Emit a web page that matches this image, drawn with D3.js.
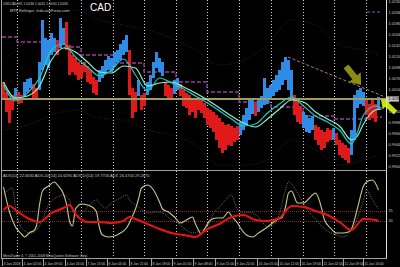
<!DOCTYPE html>
<html>
<head>
<meta charset="utf-8">
<script src="https://cdn.jsdelivr.net/npm/d3@7"></script>
<style>
html, body { margin: 0; padding: 0; background: #000; overflow: hidden; }
svg { display: block; }
text { font-family: "Liberation Sans", Arial, sans-serif; }
</style>
</head>
<body>
<script>
// ---- price bars (H1), one per bar index ----
const barHigh = [
  1.0070,1.0050,1.0038,1.0044,1.0058,1.0050,1.0044,1.0070,1.0076,1.0078,
  1.0066,1.0058,1.0110,1.0194,1.0158,1.0154,1.0168,1.0158,1.0154,1.0198,
  1.0178,1.0190,1.0144,1.0124,1.0118,1.0110,1.0104,1.0110,1.0102,1.0094,
  1.0080,1.0074,1.0094,1.0102,1.0114,1.0122,1.0118,1.0130,1.0134,1.0146,
  1.0154,1.0164,1.0134,1.0058,1.0050,1.0074,1.0044,1.0048,1.0070,1.0084,
  1.0110,1.0130,1.0118,1.0110,1.0070,1.0064,1.0058,1.0074,1.0078,1.0066,
  1.0054,1.0048,1.0044,1.0038,1.0034,1.0040,1.0038,1.0028,1.0018,1.0014,
  1.0010,1.0004,0.9998,0.9990,0.9984,0.9986,0.9982,0.9978,0.9982,0.9990,
  1.0004,1.0018,1.0034,1.0038,1.0030,1.0034,1.0042,1.0078,1.0058,1.0064,
  1.0074,1.0084,1.0094,1.0110,1.0120,1.0114,1.0094,1.0044,1.0034,1.0022,
  1.0010,1.0004,0.9998,1.0002,0.9984,0.9980,0.9974,0.9970,0.9978,0.9974,
  0.9978,0.9968,0.9954,0.9948,0.9944,0.9938,0.9974,1.0044,1.0054,1.0058,
  1.0050,1.0034,1.0026,1.0034,1.0026,1.0040
];
const barLow = [
  1.0034,1.0010,0.9988,1.0014,1.0038,1.0026,1.0028,1.0040,1.0050,1.0058,
  1.0038,1.0034,1.0054,1.0094,1.0104,1.0098,1.0124,1.0130,1.0124,1.0138,
  1.0144,1.0134,1.0084,1.0090,1.0084,1.0074,1.0078,1.0090,1.0070,1.0066,
  1.0048,1.0044,1.0070,1.0078,1.0086,1.0094,1.0090,1.0102,1.0110,1.0114,
  1.0124,1.0130,1.0044,0.9998,1.0010,1.0042,1.0014,1.0022,1.0044,1.0054,
  1.0078,1.0098,1.0090,1.0082,1.0042,1.0038,1.0034,1.0046,1.0054,1.0042,
  1.0022,1.0018,1.0004,1.0010,0.9998,1.0014,1.0008,0.9998,0.9984,0.9978,
  0.9970,0.9954,0.9938,0.9928,0.9934,0.9944,0.9942,0.9950,0.9954,0.9964,
  0.9974,0.9984,0.9994,1.0006,1.0002,1.0010,1.0018,1.0024,1.0026,1.0034,
  1.0042,1.0050,1.0054,1.0064,1.0074,1.0054,1.0034,1.0004,0.9990,0.9986,
  0.9978,0.9970,0.9968,0.9974,0.9954,0.9944,0.9934,0.9938,0.9950,0.9954,
  0.9954,0.9944,0.9924,0.9918,0.9914,0.9908,0.9924,0.9954,1.0018,1.0026,
  1.0022,1.0004,0.9994,0.9998,0.9990,1.0014
];
// b = up (blue), r = down (red)
const barDir = ("rrrrbrrbbb" + "rrbbbbbbrb" + "brrrrrrrrr" + "rrbbbbbbbb" +
  "bbrrrbrrbb" + "bbbbrrrbbr" + "rrrrrrrrrr" + "rrrrrrrrrb" + "bbbbrbbbbb" +
  "bbbbbbbrrr" + "bbbbrrrrrr" + "brrrrrbbbb" + "brrrrb").split("");

// ---- moving averages ----
const maIdx  = [0,4,8,12,16,20,24,28,32,36,40,44,48,52,56,60,64,68,72,76,80,84,88,92,96,100,104,108,112,116,118,120,124,126];
const maFast = [1.0064,1.0032,1.0048,1.0078,1.0134,1.0146,1.0120,1.0100,1.0082,1.0094,1.0116,1.0084,1.0052,1.0078,1.0068,1.0056,1.0042,
  1.0028,1.0012,0.9996,0.9982,0.9986,1.0008,1.0026,1.0040,1.0022,1.0002,0.9990,0.9974,0.9946,0.9970,1.0004,1.0022,1.0018];
const maSlow = [1.0070,1.0038,1.0042,1.0062,1.0114,1.0138,1.0130,1.0110,1.0090,1.0088,1.0102,1.0098,1.0062,1.0068,1.0070,1.0060,1.0048,
  1.0034,1.0018,1.0002,0.9988,0.9980,0.9996,1.0016,1.0034,1.0030,1.0010,0.9996,0.9982,0.9954,0.9962,0.9986,1.0014,1.0016];

// ---- faint bollinger bands ----
const bandIdx = [0,8,16,24,32,40,48,56,64,72,80,88,96,104,112,120,125];
const bandUpper = [1.0114,1.0154,1.0204,1.0214,1.0194,1.0184,1.0174,1.0158,1.0134,1.0104,1.0114,1.0144,1.0194,1.0184,1.0144,1.0134,1.0124];
const bandLower = [0.9974,0.9984,1.0004,1.0014,0.9998,0.9994,0.9974,0.9964,0.9944,0.9904,0.9904,0.9914,0.9954,0.9934,0.9904,0.9914,0.9924];

// ---- higher timeframe step line (MTF) ----
const gridBars = [5,15.67,26.33,37,47.33,58,68.33,79,89.67,100.33,110.67,121.33];
const mtfEdges = [0, ...gridBars, 126.7];
const mtfLevel = [1.0160,1.0150,1.0140,1.0124,1.0108,1.0090,1.0070,1.0050,1.0030,1.0020,1.0002,0.9996,1.0000];

// ---- objects ----
const hLevel = 1.0036;
const trendBars = [95.3, 127.7], trendPrices = [1.0120, 1.0040];
const blueDashBars = [121.7, 126.3], blueDashPrice = 1.0210;
const arrowBars = [119.7, 126.3], arrowPrices = [1.0064, 1.0036];
const arrowAngles = [51, 223], arrowColors = ["#8c8c12", "#c4e400"], arrowLens = [24, 20];

// ---- indicator pane (ADX) ----
const adxIdx = [0,2,4,8,12,16,20,22,24,28,32,36,40,42,44,48,52,56,60,64,68,72,76,80,84,88,92,96,100,104,108,112,116,120,124,125];
const adx = [25.5,27.5,25.5,21.5,19.5,24,26.5,28,23.5,19.5,19.5,19,20,22,21,18.5,16,14,13,12,16,18.5,22,23,20.5,20,21.5,27.5,27,25,23,19.5,15.5,21,20.5,20];
const pdiIdx = [0,2,4,6,7,9,10,11,12,13,15,17,18,20,21,22,23,24,26,28,30,31,32,33,35,39,41,43,44,45,46,48,50,52,53,55,57,59,61,63,
  64,66,67,69,71,73,75,76,78,79,81,83,85,88,91,93,94,95,96,98,100,102,104,105,106,107,109,111,113,115,116,118,120,121,123,125];
const pdi = [37,24.5,17,13.5,12,14.5,15,17.5,28,35,37.5,39.5,38,33.5,28.5,20,17.5,26,28.5,28,26.5,24.5,16.5,13,12,14,16.5,22.5,26,31,
  36.5,38,35.5,29.5,26,24.5,22,19,20.5,22,18.5,13.5,16,20.5,21.5,21.5,24.5,22.5,19,16.5,13,12,14,17,20.5,22,27,34,35,29,
  29,31.5,34,31.5,26.5,20.5,16.5,14,14,14.5,16,26.5,37.5,39.5,40.5,35.5];
const mdiIdx = [0,3,4,6,9,11,13,15,18,20,22,23,25,26,28,31,32,34,36,39,41,42,44,45,47,49,51,53,56,58,60,63,66,68,70,72,74,76,78,80,
  82,85,88,90,92,94,95,97,99,102,104,106,108,111,113,115,117,120,121,123,125];
const mdi = [33,36.5,26.5,16.5,14,15.5,20.5,28,32,33,30.5,25.5,22.5,24,27,30.5,29,26.5,29,31.5,33,30.5,28,27,24.5,24,24.5,24,20.5,19,
  16.5,14,15.5,17,24,27,30.5,33,25.5,24,24.5,22,17,18,24,35.5,39.5,36.5,31.5,24,21,17.5,15,13,12,13.5,18,30.5,35.5,30.5,26];
const adxLevels = [25, 20];

// ---- axis labels ----
const priceTicks = [1.0230,1.0208,1.0186,1.0164,1.0142,1.0120,1.0098,1.0076,1.0054,1.0010,0.9988,0.9966,0.9944,0.9922,0.9900];
const timeTickBars = [0,6.7,13.7,21,28,35,42.3,49.7,56.7,63.7,71,77.7,85,92,99.3,106.7,113.7,120.3];
const timeTickLabels = ["3 Jan 2008","4 Jan 02:00","4 Jan 09:00","4 Jan 16:00","7 Jan 13:00","8 Jan 04:00","8 Jan 11:00",
  "8 Jan 18:00","9 Jan 01:00","9 Jan 08:00","9 Jan 15:00","9 Jan 22:00","10 Jan 05:00","10 Jan 12:00","10 Jan 19:00",
  "11 Jan 02:00","11 Jan 09:00","11 Jan 16:00"];

const W = 400, H = 267;
const svg = d3.select("body").append("svg").attr("width", W).attr("height", H);
svg.append("rect").attr("width", W).attr("height", H).attr("fill", "#000");

const x = d3.scaleLinear().domain([0, 128]).range([2, 386]);
const y = d3.scaleLinear().domain([0.9900, 1.0230]).range([167, 2]);
const yi = d3.scaleLinear().domain([2, 44]).range([257, 173]);
const bw = x(1) - x(0);

const defs = svg.append("defs");
defs.append("clipPath").attr("id", "cMain").append("rect").attr("x", 2).attr("y", 0).attr("width", 384).attr("height", 170);
defs.append("clipPath").attr("id", "cInd").append("rect").attr("x", 2).attr("y", 171).attr("width", 384).attr("height", 87);

// grid
svg.append("g").selectAll("line").data(gridBars).join("line")
  .attr("x1", d => Math.round(x(d)) + 0.5).attr("x2", d => Math.round(x(d)) + 0.5)
  .attr("y1", 0).attr("y2", 258)
  .attr("stroke", "#d0d0d0").attr("stroke-dasharray", "1,2");

const main = svg.append("g").attr("clip-path", "url(#cMain)");

// faint bands
[bandUpper, bandLower].forEach(b => {
  main.append("path")
    .attr("d", d3.line().x((d, i) => x(bandIdx[i] + 0.5)).y(d => y(d)).curve(d3.curveMonotoneX)(b))
    .attr("fill", "none").attr("stroke", "#4a1c1c").attr("stroke-dasharray", "1,2");
});

// MTF steps
const steps = [];
mtfLevel.forEach((v, i) => { steps.push([mtfEdges[i], v]); steps.push([mtfEdges[i + 1], v]); });
main.append("path")
  .attr("d", d3.line().x(d => x(d[0])).y(d => y(d[1]))(steps))
  .attr("fill", "none").attr("stroke", "#93409a").attr("stroke-width", 1.3).attr("stroke-dasharray", "4,2");

// bars
main.append("g").selectAll("rect").data(barHigh).join("rect")
  .attr("x", (d, i) => x(i)).attr("width", bw)
  .attr("y", d => y(d)).attr("height", (d, i) => y(barLow[i]) - y(d))
  .attr("fill", (d, i) => barDir[i] === "b" ? "#2f8ce6" : "#e01a1a")
  .attr("shape-rendering", "crispEdges");

// horizontal level
main.append("line").attr("x1", 2).attr("x2", 386).attr("y1", y(hLevel)).attr("y2", y(hLevel))
  .attr("stroke", "#a09c5c").attr("stroke-width", 2);

// moving averages
const maLine = d3.line().x((d, i) => x(maIdx[i] + 0.5)).y(d => y(d)).curve(d3.curveMonotoneX);
main.append("path").attr("d", maLine(maSlow)).attr("fill", "none").attr("stroke", "#90f0c8").attr("stroke-width", 1.2);
main.append("path").attr("d", maLine(maFast)).attr("fill", "none").attr("stroke", "#20c8c0").attr("stroke-width", 1.2);

// trendline + blue dash
main.append("line")
  .attr("x1", x(trendBars[0])).attr("y1", y(trendPrices[0]))
  .attr("x2", x(trendBars[1])).attr("y2", y(trendPrices[1]))
  .attr("stroke", "#b07a8c").attr("stroke-dasharray", "3,2");
main.append("line")
  .attr("x1", x(blueDashBars[0])).attr("x2", x(blueDashBars[1]))
  .attr("y1", y(blueDashPrice)).attr("y2", y(blueDashPrice))
  .attr("stroke", "#3a78d8").attr("stroke-width", 1.2).attr("stroke-dasharray", "3,2");

// arrows
arrowBars.forEach((b, i) => {
  const L = arrowLens[i];
  const hl = L * 0.42, hw = L * 0.32, sw = L * 0.13;
  const shape = [[0, 0], [-hl, -hw], [-hl, -sw], [-L, -sw], [-L, sw], [-hl, sw], [-hl, hw]];
  svg.append("path")
    .attr("d", d3.line()(shape) + "Z")
    .attr("transform", `translate(${x(b)},${y(arrowPrices[i])}) rotate(${arrowAngles[i]})`)
    .attr("fill", arrowColors[i]);
});

// ---- indicator pane ----
const ind = svg.append("g").attr("clip-path", "url(#cInd)");
ind.selectAll("line.lv").data(adxLevels).join("line")
  .attr("x1", 2).attr("x2", 386).attr("y1", d => Math.round(yi(d)) + 0.5).attr("y2", d => Math.round(yi(d)) + 0.5)
  .attr("stroke", "#8a2a2a").attr("stroke-dasharray", "1,1");
const indLine = idx => d3.line().x((d, i) => x(idx[i] + 0.5)).y(d => yi(d)).curve(d3.curveMonotoneX);
ind.append("path").attr("d", indLine(mdiIdx)(mdi)).attr("fill", "none").attr("stroke", "#6c6c6c").attr("stroke-dasharray", "1,1");
ind.append("path").attr("d", indLine(pdiIdx)(pdi)).attr("fill", "none").attr("stroke", "#c8c884").attr("stroke-width", 1.1);
ind.append("path").attr("d", indLine(adxIdx)(adx)).attr("fill", "none").attr("stroke", "#e81414").attr("stroke-width", 2);

// frames
const frame = svg.append("g").attr("stroke", "#a0a0a0").attr("shape-rendering", "crispEdges");
frame.append("line").attr("x1", 1.5).attr("x2", 1.5).attr("y1", 0).attr("y2", 258);
frame.append("line").attr("x1", 386.5).attr("x2", 386.5).attr("y1", 0).attr("y2", 258).attr("stroke", "#e0e0e0");
frame.append("line").attr("x1", 1).attr("x2", 387).attr("y1", 170.5).attr("y2", 170.5);
frame.append("line").attr("x1", 1).attr("x2", 387).attr("y1", 258.5).attr("y2", 258.5);

// right price axis
svg.append("g").selectAll("text").data(priceTicks).join("text")
  .attr("x", 388.5).attr("y", d => y(d) + 1.3)
  .attr("font-size", 3.8).attr("fill", "#c8c8c8")
  .text(d => d.toFixed(4));
svg.append("rect").attr("x", 387).attr("y", y(hLevel) - 2.6).attr("width", 12).attr("height", 5.2).attr("fill", "#c8c8c8");
svg.append("text").attr("x", 388.5).attr("y", y(hLevel) + 1.3).attr("font-size", 3.8).attr("fill", "#000")
  .text(hLevel.toFixed(4));

// indicator level labels
svg.append("g").selectAll("text").data(adxLevels).join("text")
  .attr("x", 388.5).attr("y", d => yi(d) + 1.3)
  .attr("font-size", 3.8).attr("fill", "#c8c8c8").text(d => d);

// time axis
const tg = svg.append("g");
tg.selectAll("line").data(timeTickBars).join("line")
  .attr("x1", d => Math.round(x(d)) + 0.5).attr("x2", d => Math.round(x(d)) + 0.5)
  .attr("y1", 259).attr("y2", 266).attr("stroke", "#a0a0a0");
tg.selectAll("text").data(timeTickLabels).join("text")
  .attr("x", (d, i) => x(timeTickBars[i]) + 1.5).attr("y", 265)
  .attr("font-size", 3.4).attr("fill", "#c8c8c8").text(d => d);

// header texts
svg.append("text").attr("x", 3).attr("y", 5).attr("font-size", 3.4).attr("fill", "#c8c8c8")
  .text("USDCAD,H1  1.0036 1.0041 1.0030 1.0036");
svg.append("text").attr("x", 10).attr("y", 11.5).attr("font-size", 3.9).attr("fill", "#c8c8c8")
  .text("MTF Bollinger, IndicatorForex.com");
svg.append("text").attr("x", 90).attr("y", 11).attr("font-size", 10).attr("fill", "#ffffff")
  .text("CAD");
svg.append("text").attr("x", 3).attr("y", 177).attr("font-size", 4).attr("fill", "#c8c8c8")
  .text("ADX(14) 22.6630  ADX+DI(14) 24.6290  ADX-DI(14) 19.7756  ADX 26.4700 29.2670");
svg.append("text").attr("x", 3).attr("y", 257).attr("font-size", 3.4).attr("fill", "#c8c8c8")
  .text("MetaTrader 4, © 2001-2008 MetaQuotes Software Corp.");
</script>
</body>
</html>
